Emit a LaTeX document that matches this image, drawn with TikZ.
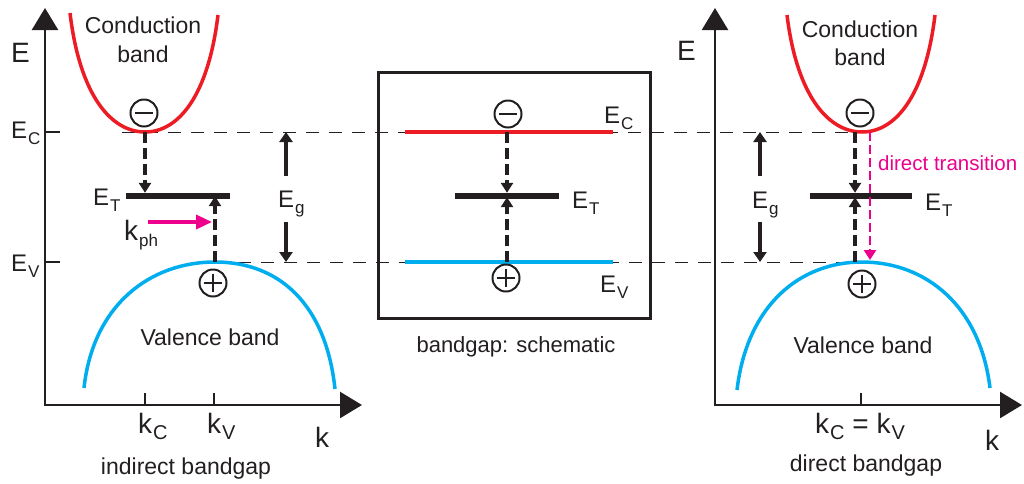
\documentclass[tikz,border=0pt]{standalone}
\usepackage{fontspec}
\setmainfont{Liberation Sans}
\usetikzlibrary{arrows.meta}
\definecolor{inkgray}{RGB}{35,31,32}
\definecolor{condred}{RGB}{237,28,36}
\definecolor{valblue}{RGB}{0,174,239}
\definecolor{phononpink}{RGB}{236,0,140}
\newcommand{\lsub}[2][17]{\kern1pt\raisebox{-6pt}{\fontsize{#1}{#1}\selectfont #2}}

\tikzset{
    band/.style={line width=3.5pt},
    guide/.style={line width=1pt, inkgray, dash pattern=on 13pt off 10pt},
    axis/.style={line width=2.5pt, inkgray, -{Triangle[length=22pt,width=26pt]}},
    tick/.style={line width=2.5pt, inkgray},
    hop/.style={line width=4pt, inkgray, dash pattern=on 11pt off 5pt, -{Triangle[length=10pt,width=12pt]}},
    gaparrow/.style={line width=4pt, inkgray, -{Triangle[length=10pt,width=13pt]}},
    pusharrow/.style={line width=3.5pt, phononpink, -{Triangle[length=16pt,width=14pt]}},
    directarrow/.style={line width=2.5pt, phononpink, dash pattern=on 9pt off 4pt, -{Triangle[length=10pt,width=12pt]}},
    trapbar/.style={fill=inkgray, minimum height=6pt, inner sep=0pt},
    charge/.style={circle, draw=inkgray, line width=2pt, minimum size=27pt, inner sep=0pt},
    minus/.style={charge, path picture={
        \draw[line width=2pt, inkgray] ([xshift=4.5pt]path picture bounding box.west) -- ([xshift=-4.5pt]path picture bounding box.east);}},
    plus/.style={charge, path picture={
        \draw[line width=2pt, inkgray] ([xshift=4.5pt]path picture bounding box.west) -- ([xshift=-4.5pt]path picture bounding box.east);
        \draw[line width=2pt, inkgray] ([yshift=-4.5pt]path picture bounding box.north) -- ([yshift=4.5pt]path picture bounding box.south);}},
    txt/.style={text=inkgray, font=\fontsize{23}{28}\selectfont, inner sep=0pt, anchor=base},
    sym/.style={text=inkgray, font=\fontsize{24}{24}\selectfont, inner sep=0pt, anchor=base west},
    axlbl/.style={sym, font=\fontsize{28}{28}\selectfont}
}

\begin{document}
\begin{tikzpicture}[x=1pt,y=-1pt]
    \useasboundingbox (0,0) rectangle (1024,483);

    % Band edges and level guides
    \coordinate (cminL) at (145,132);
    \coordinate (vmaxL) at (215,262);
    \coordinate (cminR) at (862,132);
    \coordinate (vmaxR) at (862,262);
    \draw[guide] (122,132) -- (cminR);
    \draw[guide] (vmaxL) -- (vmaxR);

    % ---- Indirect bandgap ----
    \draw[axis] (45,406.25) -- (45,8);
    \draw[axis] (43.75,405) -- (362,405);
    \draw[tick] (45,132) -- (60,132);
    \draw[tick] (45,262) -- (60,262);
    \draw[tick] (145,393) -- (145,405);
    \draw[tick] (214,393) -- (214,405);
    \node[axlbl] (eaxL) at (11,62) {E};
    \node[sym] (ecL) at (11,138) {E\lsub{C}};
    \node[sym] (evL) at (11,271) {E\lsub{V}};

    \draw[band, condred] (70,13) .. controls (80,97) and (112,132) .. (cminL)
        .. controls (178,132) and (208,97) .. (218,15);
    \draw[band, valblue] (84,388) .. controls (93,305) and (150,262) .. (vmaxL)
        .. controls (280,262) and (326,305) .. (335,389);
    \node[txt] (cbL1) at (143,33) {Conduction};
    \node[txt] (cbL2) at (143,62) {band};
    \node[txt] (vbL) at (210,345) {Valence band};

    \node[minus] (eL) at (144,113) {};
    \node[plus] (hL) at (213,283) {};
    \node[trapbar, minimum width=104pt] (etL) at (178,196) {};
    \node[sym] (etLbl) at (93,205) {E\lsub{T}};
    \draw[hop] (cminL) -- (cminL |- etL.north);
    \draw[hop] (vmaxL) -- ([yshift=3pt]vmaxL |- etL.south);

    \node[axlbl] (kph) at (124,240) {k\lsub{ph}};
    \coordinate (kphA) at (148,222);
    \coordinate (kphB) at (212,222);
    \draw[pusharrow] (kphA) -- (kphB);

    \coordinate (egupL) at (286,176);
    \coordinate (egdnL) at (286,222);
    \node[sym] (egL) at (278,207) {E\lsub{g}};
    \draw[gaparrow] (egupL) -- (egupL |- cminL);
    \draw[gaparrow] (egdnL) -- (egdnL |- vmaxL);

    \node[axlbl] (kcL) at (138,433) {k\lsub[20]{C}};
    \node[axlbl] (kvL) at (207,433) {k\lsub[20]{V}};
    \node[axlbl] (kL) at (315,447) {k};
    \node[txt] (capL) at (186,474) {indirect bandgap};

    % ---- Schematic ----
    \draw[line width=3pt, inkgray] (378,72) rectangle (650,318);
    \coordinate (ecM) at (507,132);
    \coordinate (evM) at (507,262);
    \draw[band, condred] (405,132) -- (613,132);
    \draw[band, valblue] (405,262) -- (613,262);
    \node[minus] (eM) at (508,114) {};
    \node[plus] (hM) at (506,278) {};
    \node[trapbar, minimum width=104pt] (etM) at (507,196) {};
    \draw[hop] (ecM) -- (ecM |- etM.north);
    \draw[hop] (evM) -- ([yshift=2pt]evM |- etM.south);
    \node[sym] (ecMl) at (604,123) {E\lsub{C}};
    \node[sym] (etMl) at (572,208) {E\lsub{T}};
    \node[sym] (evMl) at (600,292) {E\lsub{V}};
    \node[txt, font=\fontsize{22}{26}\selectfont] (capM) at (516,352) {bandgap: schematic};

    % ---- Direct bandgap ----
    \draw[axis] (715,406.25) -- (715,8);
    \draw[axis] (713.75,405) -- (1022,405);
    \draw[tick] (861,393) -- (861,405);
    \node[axlbl] (eaxR) at (677,60) {E};

    \draw[band, condred] (787,15) .. controls (797,97) and (829,132) .. (cminR)
        .. controls (895,132) and (925,97) .. (935,15);
    \draw[band, valblue] (737,390) .. controls (747,305) and (800,262) .. (vmaxR)
        .. controls (925,262) and (980,305) .. (990,388);
    \node[txt] (cbR1) at (860,37) {Conduction};
    \node[txt] (cbR2) at (860,65) {band};
    \node[txt] (vbR) at (863,353) {Valence band};

    \node[minus] (eR) at (860,113) {};
    \node[plus] (hR) at (862,284) {};
    \node[trapbar, minimum width=102pt] (etR) at (861,196) {};
    \node[sym] (etRl) at (925,210) {E\lsub{T}};
    \coordinate (hopRc) at (855,132);
    \coordinate (hopRv) at (855,262);
    \draw[hop] (hopRc) -- (hopRc |- etR.north);
    \draw[hop] (hopRv) -- ([yshift=2pt]hopRv |- etR.south);

    \coordinate (dtA) at (870,132);
    \coordinate (dtB) at (870,260);
    \draw[directarrow] (dtA) -- (dtB);
    \node[sym, font=\fontsize{20.5}{20.5}\selectfont, text=phononpink] (dtl) at (878,170) {direct transition};

    \coordinate (egupR) at (760,176);
    \coordinate (egdnR) at (760,222);
    \node[sym] (egR) at (752,208) {E\lsub{g}};
    \draw[gaparrow] (egupR) -- (egupR |- cminR);
    \draw[gaparrow] (egdnR) -- (egdnR |- vmaxR);

    \node[axlbl] (kcvR) at (815,433) {k\lsub[20]{C} = k\lsub[20]{V}};
    \node[axlbl] (kR) at (985,450) {k};
    \node[txt] (capR) at (866,471) {direct bandgap};
\end{tikzpicture}
\end{document}
